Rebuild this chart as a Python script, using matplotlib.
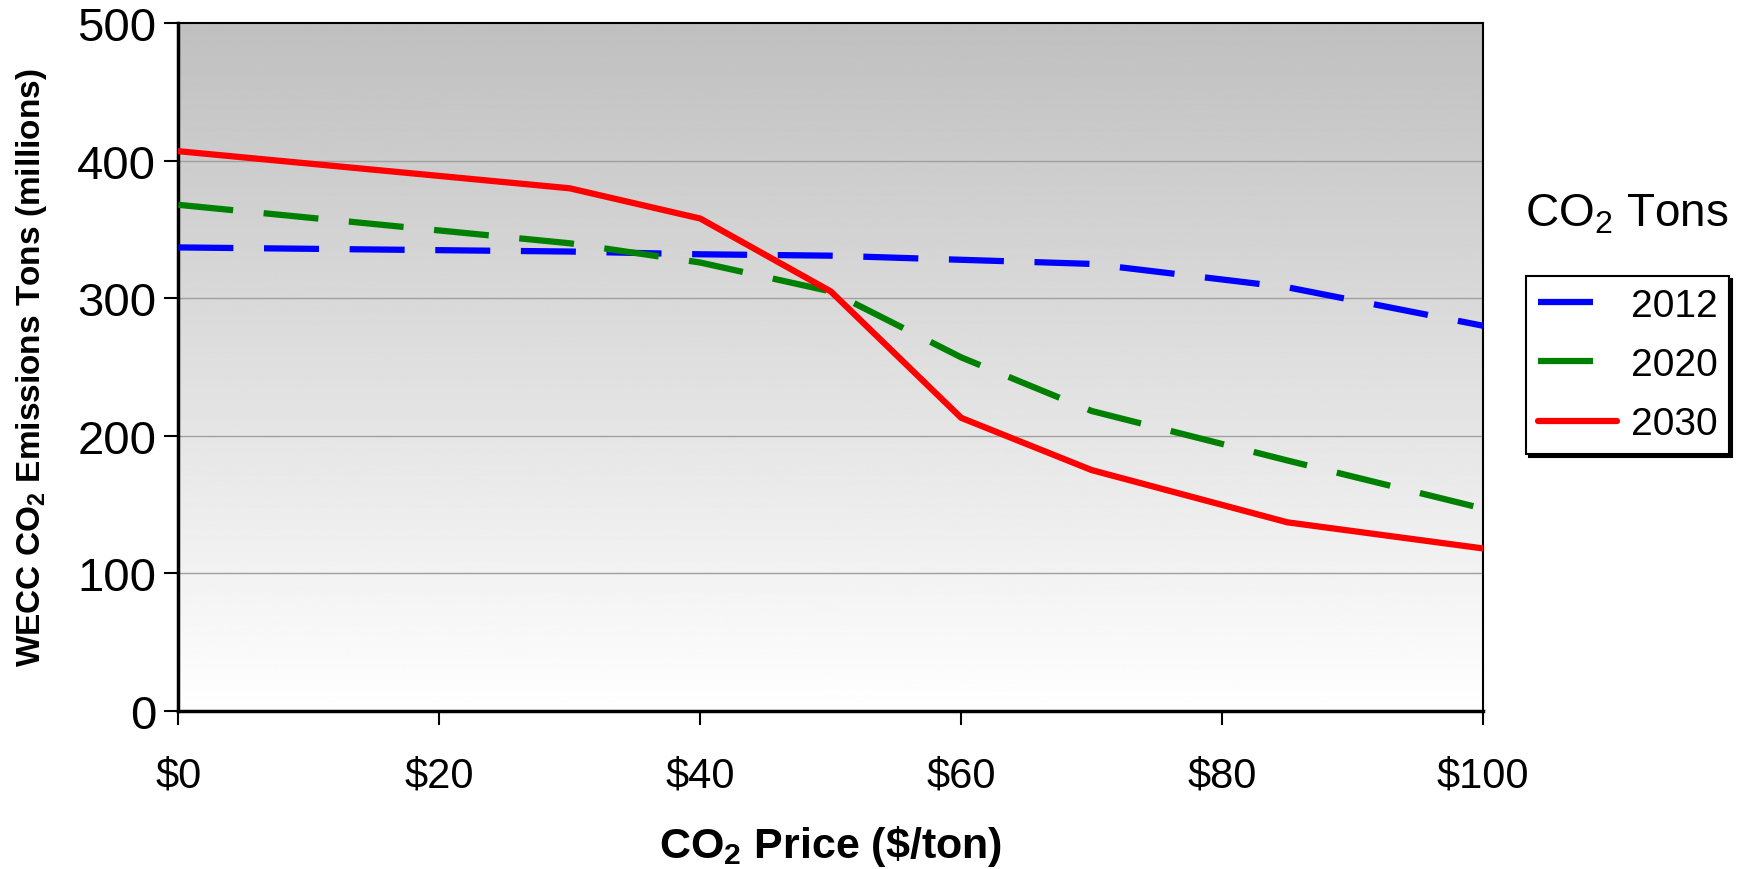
import numpy as np
import matplotlib.pyplot as plt

plt.rcParams['font.family'] = ['Liberation Sans', 'DejaVu Sans']
plt.rcParams['mathtext.fontset'] = 'custom'
plt.rcParams['mathtext.rm'] = 'Liberation Sans'
plt.rcParams['mathtext.bf'] = 'Liberation Sans:bold'

# CO2 price ($/ton) and WECC emissions (million tons)
price = [0, 30, 40, 50, 60, 70, 85, 100]
em_2012 = [337, 334, 332, 331, 328, 325, 308, 280]
em_2020 = [368, 340, 326, 305, 257, 218, 182, 147]
em_2030 = [407, 380, 358, 305, 213, 175, 137, 118]

x_ticks = [0, 20, 40, 60, 80, 100]
y_ticks = [0, 100, 200, 300, 400, 500]

fig = plt.figure(figsize=(17.49, 8.70), dpi=100)
ax = fig.add_axes([0.102, 0.182, 0.746, 0.790])

# grey-to-white gradient plot area
grad = np.linspace(0.75, 1.0, 256).reshape(-1, 1)
ax.imshow(grad, cmap='gray', vmin=0, vmax=1, aspect='auto',
          extent=[0, 100, 0, 500], origin='upper', zorder=0)

for y in [100, 200, 300, 400]:
    ax.axhline(y, color='#a0a0a0', lw=1.0, zorder=1)

lw = 4.5
dash = (0, (8.8, 4.9))
ax.plot(price, em_2012, color='#0000ff', lw=lw, ls=dash, label='2012', zorder=3)
ax.plot(price, em_2020, color='#008000', lw=lw, ls=dash, label='2020', zorder=3)
ax.plot(price, em_2030, color='#ff0000', lw=lw, label='2030', zorder=4,
        solid_capstyle='round')

ax.set_xlim(0, 100)
ax.set_ylim(0, 500)
ax.set_xticks(x_ticks)
ax.set_xticklabels([r'\$%d' % v for v in x_ticks])
ax.set_yticks(y_ticks)
ax.set_yticklabels([str(v) for v in y_ticks])
ax.tick_params(axis='y', direction='out', length=10, width=1.5, pad=6, labelsize=34)
ax.tick_params(axis='x', direction='out', length=10, width=1.5, pad=22, labelsize=30)

for s in ['left', 'bottom']:
    ax.spines[s].set_linewidth(2.5)
for s in ['top', 'right']:
    ax.spines[s].set_linewidth(1.5)

ax.set_xlabel(r'CO$_\mathbf{2}$ Price (\$/ton)', fontsize=31, fontweight='bold', labelpad=20)
ax.set_ylabel(r'WECC CO$_\mathbf{2}$ Emissions Tons (millions)', fontsize=24, fontweight='bold', labelpad=20)

fig.text(0.930, 0.753, r'CO$_2$ Tons', fontsize=33, ha='center', va='center')
leg = ax.legend(loc='upper left', bbox_to_anchor=(0.8725, 0.6816), bbox_transform=fig.transFigure,
                fontsize=28, frameon=True, fancybox=False, shadow={'color': 'black', 'alpha': 1},
                handlelength=2.05, handletextpad=0.35, borderpad=0.3, labelspacing=0.6,
                borderaxespad=0)
leg.get_frame().set_edgecolor('black')
leg.get_frame().set_linewidth(1.5)

fig.savefig('out.png', dpi=100)
